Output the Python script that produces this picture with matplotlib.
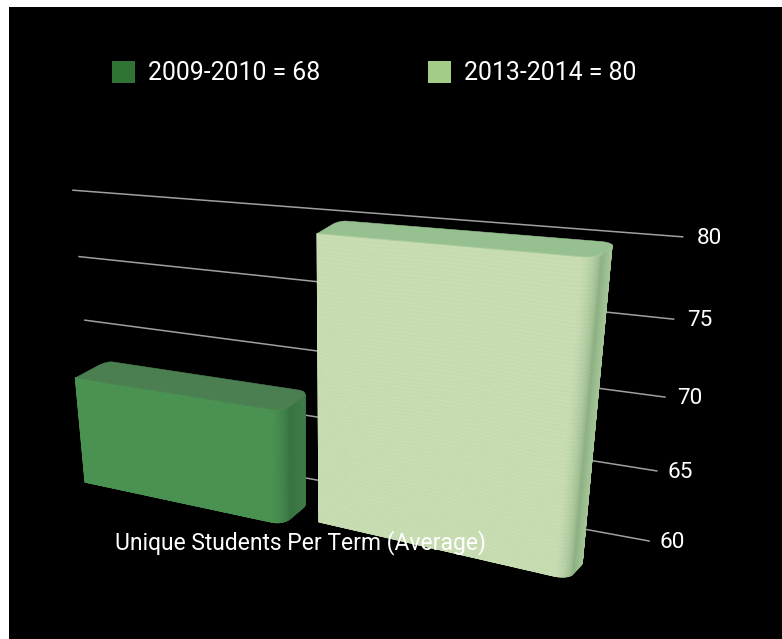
import numpy as np
import matplotlib
matplotlib.use('Agg')
import matplotlib.pyplot as plt
from matplotlib.colors import to_rgb
from matplotlib.patches import Polygon, Rectangle

plt.rc('font', family='Roboto')

# data
periods = ['2009-2010', '2013-2014']
students = [68, 80]
ticks = [60, 65, 70, 75, 80]
chart_title = 'Unique Students Per Term (Average)'

# colours per bar
legend_colors = ['#2f7434', '#a3cc87']
front_colors = ['#4b9352', '#c9ddb3']
side_dark = ['#3a7444', '#8fb285']
side_light = ['#3f7c49', '#a6c798']
top_colors = ['#4b7f51', '#97c090']

# projection of each bar (x 0-1, level 0-1, depth 0-1) and of the back wall to pixels
CAMERAS = [
    np.array([[167.18474, -31.11168, -32.17426, 114.73587],
              [-5.65171, -291.39319, 5.16174, 462.9476],
              [-0.08954, -0.10149, -0.02901, 1.0]]),
    np.array([[183.80707, -32.26006, -24.97814, 338.72602],
              [-6.15403, -306.04148, 8.09168, 505.36291],
              [-0.10817, -0.09602, -0.01618, 1.0]]),
]
WALL = np.array([[427.78325, -28.99049, 95.95408],
                 [-2.92154, -264.89969, 439.46883],
                 [-0.19306, -0.08221, 1.0]])

RX, RZ = 0.05, 0.25


def level(val):
    return (val - ticks[0]) / (ticks[-1] - ticks[0])


def project(cam, x, y, z):
    x, y, z = np.broadcast_arrays(np.asarray(x, float), np.asarray(y, float), np.asarray(z, float))
    h = np.tensordot(cam, np.array([x, y, z, np.ones(x.shape)]), axes=1)
    return h[0] / h[2], h[1] / h[2]


def wall_point(x, y):
    h = WALL @ np.array([x, y, 1.0])
    return h[:2] / h[2]


def outline():
    # floor path of the visible surface and the colour position along it
    # t: 0 = flat front, 1 = start of the side, 2 = back of the side
    a = np.linspace(0, np.pi / 2, 12)
    b = np.linspace(0, np.pi / 6, 5)[1:]
    xs = np.r_[np.linspace(0, 1 - RX, 50), 1 - RX + RX * np.sin(a[1:]), np.full(12, 1.0),
               1 - RX + RX * np.cos(b)]
    zs = np.r_[np.ones(50), 1 - RZ + RZ * np.cos(a[1:]), np.linspace(1 - RZ, RZ, 13)[1:],
               RZ - RZ * np.sin(b)]
    ts = np.r_[np.zeros(50), a[1:] / a[-1], 1 + np.linspace(0, 1, 13)[1:], np.full(4, 2.0)]
    return xs, zs, ts


def top_shape():
    a = np.linspace(0, np.pi / 2, 12)
    xs = np.r_[0, 1 - RX + RX * np.sin(a), np.full(2, 1.0), 1 - RX + RX * np.cos(a),
               0.03 - 0.03 * np.sin(a)]
    zs = np.r_[1, 1 - RZ + RZ * np.cos(a), RZ, RZ, RZ - RZ * np.sin(a), 0.3 - 0.3 * np.cos(a)]
    return xs, zs


def surface_color(i, ts, lv, xs):
    front = np.array(to_rgb(front_colors[i]))
    dark = np.array(to_rgb(side_dark[i]))
    light = np.array(to_rgb(side_light[i]))
    t1 = np.clip(ts, 0, 1)[..., None] ** 1.4
    t2 = np.clip(ts - 1, 0, 1)[..., None]
    base = front * (1 - t1) + dark * t1
    base = base * (1 - t2) + light * t2
    # brushed streaks that run along the face and drift a little
    w = lv + 0.004 * np.sin(xs * 9)
    s = np.sin(w * 523 + xs * 7) + 0.8 * np.sin(w * 911 + 1 - xs * 11) + 0.6 * np.sin(w * 1487 + 2 + xs * 17)
    return np.clip(base * (1 + 0.009 * s)[..., None], 0, 1)


def draw_bar(ax, i):
    cam = CAMERAS[i]
    y = level(students[i])
    xs, zs, ts = outline()
    levels = np.linspace(0, y, int(y * 420) + 2)
    grid_x, grid_lv = np.meshgrid(xs, levels)
    grid_z = np.tile(zs, (len(levels), 1))
    grid_t = np.tile(ts, (len(levels), 1))
    px, py = project(cam, grid_x, grid_lv, grid_z)

    # silhouette first so that the edges stay smooth
    sil = np.r_[np.c_[px[0], py[0]], np.c_[px[-1], py[-1]][::-1]]
    ax.add_patch(Polygon(sil, closed=True, fc=side_light[i], ec='none', zorder=3 + i))
    ax.add_patch(Polygon(np.c_[px[:, :50].ravel()[[0, 49, -1, -50]], py[:, :50].ravel()[[0, 49, -1, -50]]],
                         closed=True, fc=front_colors[i], ec=front_colors[i], lw=0.6, zorder=3 + i))
    ax.pcolormesh(px, py, surface_color(i, grid_t, grid_lv, grid_x), shading='gouraud', zorder=3 + i)

    tx, tz = top_shape()
    qx, qy = project(cam, tx, y, tz)
    ax.add_patch(Polygon(np.c_[qx, qy], closed=True, fc=top_colors[i], ec=top_colors[i], lw=0.4, zorder=3 + i))
    ax.plot(px[-1][:62], py[-1][:62], color=front_colors[i], lw=1.0, alpha=0.3, zorder=3 + i)


fig = plt.figure(figsize=(7.82, 6.39), dpi=100, facecolor='white')
ax = fig.add_axes([0, 0, 1, 1])
ax.add_patch(Rectangle((9, 7), 773, 632, fc='black', ec='none', zorder=0))

# back wall lines and tick labels
for t in ticks:
    y = level(t)
    p0, p1 = wall_point(0, y), wall_point(1, y)
    ax.plot([p0[0], p1[0]], [p0[1], p1[1]], color='#a0a0a0', lw=1.1, zorder=1)
    ax.text(p1[0] + 10 + 4.5 * y, p1[1] + 1.5, str(t), color='white', fontsize=16.2, va='center', ha='left', zorder=2)

for i in range(len(students)):
    draw_bar(ax, i)

# legend
legend_x = [112, 428]
for i in range(len(periods)):
    ax.add_patch(Rectangle((legend_x[i], 61), 22.5, 22, fc=legend_colors[i], ec='none', zorder=2))
    ax.text(legend_x[i] + 36, 72.5, f'{periods[i]} = {students[i]}', color='white', fontsize=17.9,
            va='center', ha='left', zorder=2)

ax.text(115, 549, chart_title, color='white', fontsize=16.5, va='baseline', ha='left', zorder=8)

ax.set_xlim(0, 782)
ax.set_ylim(639, 0)
ax.axis('off')
fig.savefig('out.png', dpi=100, facecolor='white')
